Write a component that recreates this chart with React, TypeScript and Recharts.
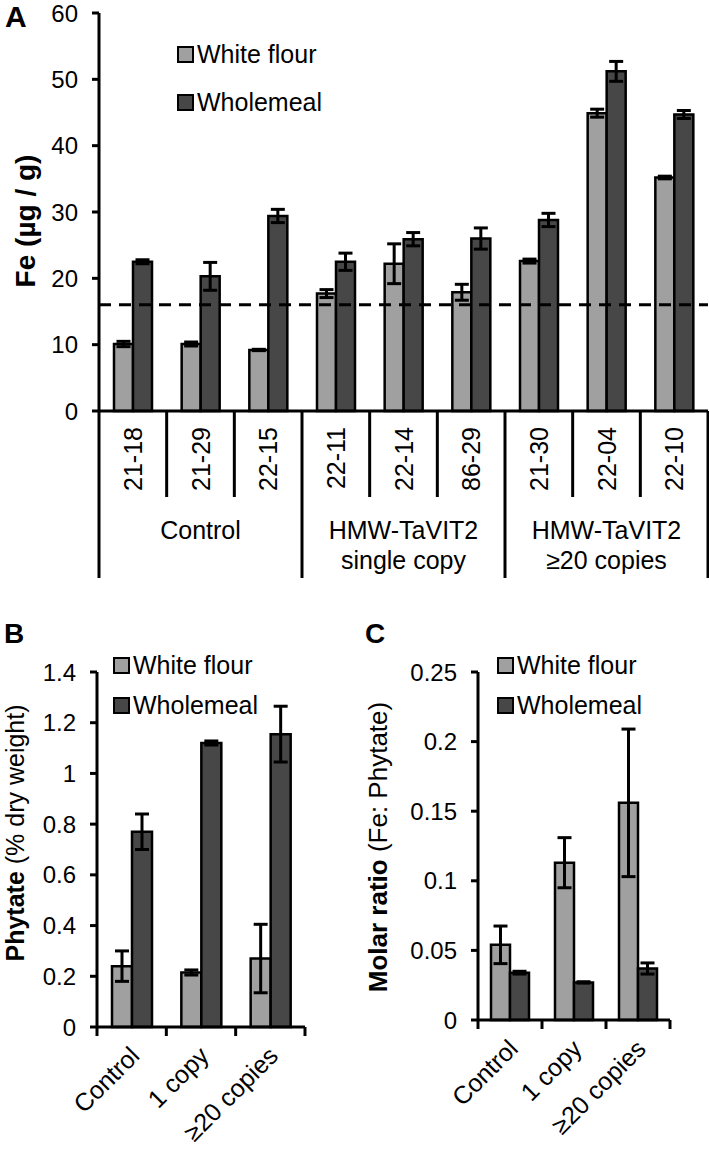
import React from "react";
import {
  BarChart,
  Bar,
  XAxis,
  YAxis,
  ErrorBar,
  ReferenceLine,
  Legend,
} from "recharts";

const FONT = '"Liberation Sans", Arial, Helvetica, sans-serif';
const WHITE = "#a0a0a0";
const WHOLE = "#474747";

// panel A: Fe concentration per line
const lines = ["21-18", "21-29", "22-15", "22-11", "22-14", "86-29", "21-30", "22-04", "22-10"];
const groupLabels = [["Control"], ["HMW-TaVIT2", "single copy"], ["HMW-TaVIT2", "≥20 copies"]];
const whiteFe = [10.1, 10.1, 9.2, 17.7, 22.2, 17.9, 22.6, 44.9, 35.2];
const whiteFeErr = [0.4, 0.3, 0.1, 0.6, 3.0, 1.2, 0.3, 0.6, 0.2];
const wholeFe = [22.5, 20.3, 29.4, 22.5, 25.9, 26.0, 28.8, 51.2, 44.7];
const wholeFeErr = [0.3, 2.1, 1.0, 1.3, 1.0, 1.6, 1.0, 1.5, 0.6];
const feTicks = [0, 10, 20, 30, 40, 50, 60];
const feTarget = 16;

// panels B and C: grouped by copy number
const copyGroups = ["Control", "1 copy", "≥20 copies"];
const whitePhytate = [0.24, 0.215, 0.27];
const whitePhytateErr = [0.06, 0.01, 0.135];
const wholePhytate = [0.77, 1.12, 1.155];
const wholePhytateErr = [0.07, 0.008, 0.11];
const phytateTicks = [0, 0.2, 0.4, 0.6, 0.8, 1, 1.2, 1.4];

const whiteRatio = [0.054, 0.113, 0.156];
const whiteRatioErr = [0.0135, 0.018, 0.053];
const wholeRatio = [0.034, 0.027, 0.037];
const wholeRatioErr = [0.001, 0.0005, 0.004];
const ratioTicks = [0, 0.05, 0.1, 0.15, 0.2, 0.25];

const dataA = lines.map((line, i) => ({
  line,
  white: whiteFe[i],
  whiteErr: whiteFeErr[i],
  whole: wholeFe[i],
  wholeErr: wholeFeErr[i],
}));
const dataB = copyGroups.map((g, i) => ({
  g,
  white: whitePhytate[i],
  whiteErr: whitePhytateErr[i],
  whole: wholePhytate[i],
  wholeErr: wholePhytateErr[i],
}));
const dataC = copyGroups.map((g, i) => ({
  g,
  white: whiteRatio[i],
  whiteErr: whiteRatioErr[i],
  whole: wholeRatio[i],
  wholeErr: wholeRatioErr[i],
}));

// layout
const A = { w: 709, h: 600, left: 99, right: 1, top: 13, xh: 189 };
const B = { w: 350, h: 533, left: 97, right: 45, top: 52, xh: 126 };
const C = { w: 354, h: 533, left: 123, right: 39, top: 52, xh: 133 };
const bandA = (A.w - A.left - A.right) / lines.length;
const bandB = (B.w - B.left - B.right) / copyGroups.length;
const bandC = (C.w - C.left - C.right) / copyGroups.length;

const axisStyle = { stroke: "#000", strokeWidth: 3 };
const tickStyle = { fill: "#000", fontSize: 24, fontFamily: FONT };

function RunTick(props: any) {
  const { x, y, payload } = props;
  const i = lines.indexOf(payload.value);
  const half = bandA / 2;
  const ty = y + 16;
  return (
    <g>
      <line
        x1={x - half}
        x2={x - half}
        y1={y}
        y2={i % 3 === 0 ? y + 167 : y + 86}
        stroke="#000"
        strokeWidth={3}
      />
      {i === lines.length - 1 && (
        <line x1={x + half} x2={x + half} y1={y} y2={y + 167} stroke="#000" strokeWidth={3} />
      )}
      <text
        x={x}
        y={ty}
        transform={`rotate(-90, ${x}, ${ty})`}
        textAnchor="end"
        dominantBaseline="central"
        fontSize={25}
        fontFamily={FONT}
        fill="#000"
      >
        {payload.value}
      </text>
      {i % 3 === 1 &&
        groupLabels[Math.floor(i / 3)].map((t, k) => (
          <text
            key={k}
            x={x}
            y={y + 119 + k * 30}
            textAnchor="middle"
            dominantBaseline="central"
            fontSize={25}
            fontFamily={FONT}
            fill="#000"
          >
            {t}
          </text>
        ))}
    </g>
  );
}

const makeCopyTick = (band: number) => (props: any) => {
  const { x, y, payload } = props;
  const i = copyGroups.indexOf(payload.value);
  const half = band / 2;
  const tx = x + 3;
  const ty = y + 24;
  return (
    <g>
      <line x1={x - half} x2={x - half} y1={y} y2={y + 9} stroke="#000" strokeWidth={3} />
      {i === copyGroups.length - 1 && (
        <line x1={x + half} x2={x + half} y1={y} y2={y + 9} stroke="#000" strokeWidth={3} />
      )}
      <text
        x={tx}
        y={ty}
        transform={`rotate(-45, ${tx}, ${ty})`}
        textAnchor="end"
        dominantBaseline="central"
        fontSize={25}
        fontFamily={FONT}
        fill="#000"
      >
        {payload.value}
      </text>
    </g>
  );
};

const legendContent = (rowH: number) => (props: any) => (
  <div style={{ fontFamily: FONT, color: "#000" }}>
    {(props.payload || []).map((e: any) => (
      <div key={e.value} style={{ display: "flex", alignItems: "center", height: rowH }}>
        <span
          style={{
            width: 13,
            height: 13,
            background: e.color,
            border: "2px solid #000",
            marginRight: 3,
            display: "inline-block",
          }}
        />
        <span style={{ fontSize: 25 }}>{e.value}</span>
      </div>
    ))}
  </div>
);

function yTitle(x: number, y: number, bold: string, rest: string, size: number) {
  return () => (
    <text
      x={x}
      y={y}
      transform={`rotate(-90, ${x}, ${y})`}
      textAnchor="middle"
      fontSize={size}
      fontFamily={FONT}
      fill="#000"
    >
      <tspan fontWeight="bold">{bold}</tspan>
      {rest && <tspan>{rest}</tspan>}
    </text>
  );
}

export default function App() {
  return (
    <div style={{ position: "absolute", top: 0, left: 0, width: 709, height: 1153, background: "#fff" }}>
      <div style={{ position: "absolute", top: 0, left: 0 }}>
        <BarChart
          width={A.w}
          height={A.h}
          data={dataA}
          margin={{ top: A.top, right: A.right, left: 0, bottom: 0 }}
          barGap={0}
        >
          <XAxis
            dataKey="line"
            height={A.xh}
            interval={0}
            tickLine={false}
            tickSize={0}
            tickMargin={0}
            axisLine={axisStyle}
            tick={<RunTick />}
          />
          <YAxis
            width={A.left}
            domain={[0, 60]}
            ticks={feTicks}
            interval={0}
            tickSize={7}
            tickMargin={14}
            axisLine={axisStyle}
            tickLine={axisStyle}
            tick={tickStyle}
            label={{ content: yTitle(35, 221, "Fe (µg / g)", "", 28) }}
          />
          <Legend
            layout="vertical"
            align="center"
            verticalAlign="middle"
            wrapperStyle={{ top: 30, left: 177, width: "auto" }}
            content={legendContent(48)}
          />
          <Bar dataKey="white" name="White flour" fill={WHITE} stroke="#000" strokeWidth={2.5} barSize={19} isAnimationActive={false}>
            <ErrorBar dataKey="whiteErr" direction="y" width={7} stroke="#000" strokeWidth={3} isAnimationActive={false} />
          </Bar>
          <Bar dataKey="whole" name="Wholemeal" fill={WHOLE} stroke="#000" strokeWidth={2.5} barSize={19} isAnimationActive={false}>
            <ErrorBar dataKey="wholeErr" direction="y" width={7} stroke="#000" strokeWidth={3} isAnimationActive={false} />
          </Bar>
          <ReferenceLine y={feTarget} stroke="#000" strokeWidth={3} strokeDasharray="12 8" />
        </BarChart>
      </div>

      <div style={{ position: "absolute", top: 620, left: 0 }}>
        <BarChart
          width={B.w}
          height={B.h}
          data={dataB}
          margin={{ top: B.top, right: B.right, left: 0, bottom: 0 }}
          barGap={0}
        >
          <XAxis
            dataKey="g"
            height={B.xh}
            interval={0}
            tickLine={false}
            tickSize={0}
            tickMargin={0}
            axisLine={axisStyle}
            tick={makeCopyTick(bandB)}
          />
          <YAxis
            width={B.left}
            domain={[0, 1.4]}
            ticks={phytateTicks}
            interval={0}
            tickSize={7}
            tickMargin={14}
            axisLine={axisStyle}
            tickLine={axisStyle}
            tick={tickStyle}
            label={{ content: yTitle(24, 213, "Phytate", " (% dry weight)", 25) }}
          />
          <Legend
            layout="vertical"
            align="center"
            verticalAlign="middle"
            wrapperStyle={{ top: 25, left: 113, width: "auto" }}
            content={legendContent(40)}
          />
          <Bar dataKey="white" name="White flour" fill={WHITE} stroke="#000" strokeWidth={2.5} barSize={20} isAnimationActive={false}>
            <ErrorBar dataKey="whiteErr" direction="y" width={7} stroke="#000" strokeWidth={3} isAnimationActive={false} />
          </Bar>
          <Bar dataKey="whole" name="Wholemeal" fill={WHOLE} stroke="#000" strokeWidth={2.5} barSize={20} isAnimationActive={false}>
            <ErrorBar dataKey="wholeErr" direction="y" width={7} stroke="#000" strokeWidth={3} isAnimationActive={false} />
          </Bar>
        </BarChart>
      </div>

      <div style={{ position: "absolute", top: 620, left: 355 }}>
        <BarChart
          width={C.w}
          height={C.h}
          data={dataC}
          margin={{ top: C.top, right: C.right, left: 0, bottom: 0 }}
          barGap={0}
        >
          <XAxis
            dataKey="g"
            height={C.xh}
            interval={0}
            tickLine={false}
            tickSize={0}
            tickMargin={0}
            axisLine={axisStyle}
            tick={makeCopyTick(bandC)}
          />
          <YAxis
            width={C.left}
            domain={[0, 0.25]}
            ticks={ratioTicks}
            interval={0}
            tickSize={7}
            tickMargin={14}
            axisLine={axisStyle}
            tickLine={axisStyle}
            tick={tickStyle}
            label={{ content: yTitle(32, 227, "Molar ratio", " (Fe: Phytate)", 26) }}
          />
          <Legend
            layout="vertical"
            align="center"
            verticalAlign="middle"
            wrapperStyle={{ top: 25, left: 142, width: "auto" }}
            content={legendContent(40)}
          />
          <Bar dataKey="white" name="White flour" fill={WHITE} stroke="#000" strokeWidth={2.5} barSize={19} isAnimationActive={false}>
            <ErrorBar dataKey="whiteErr" direction="y" width={7} stroke="#000" strokeWidth={3} isAnimationActive={false} />
          </Bar>
          <Bar dataKey="whole" name="Wholemeal" fill={WHOLE} stroke="#000" strokeWidth={2.5} barSize={19} isAnimationActive={false}>
            <ErrorBar dataKey="wholeErr" direction="y" width={7} stroke="#000" strokeWidth={3} isAnimationActive={false} />
          </Bar>
        </BarChart>
      </div>

      <svg
        width={709}
        height={1153}
        style={{ position: "absolute", top: 0, left: 0, pointerEvents: "none" }}
        fontFamily={FONT}
        fontWeight="bold"
      >
        <text x={5} y={27} fontSize={30}>A</text>
        <text x={4} y={643} fontSize={28}>B</text>
        <text x={365} y={643} fontSize={28}>C</text>
      </svg>
    </div>
  );
}
